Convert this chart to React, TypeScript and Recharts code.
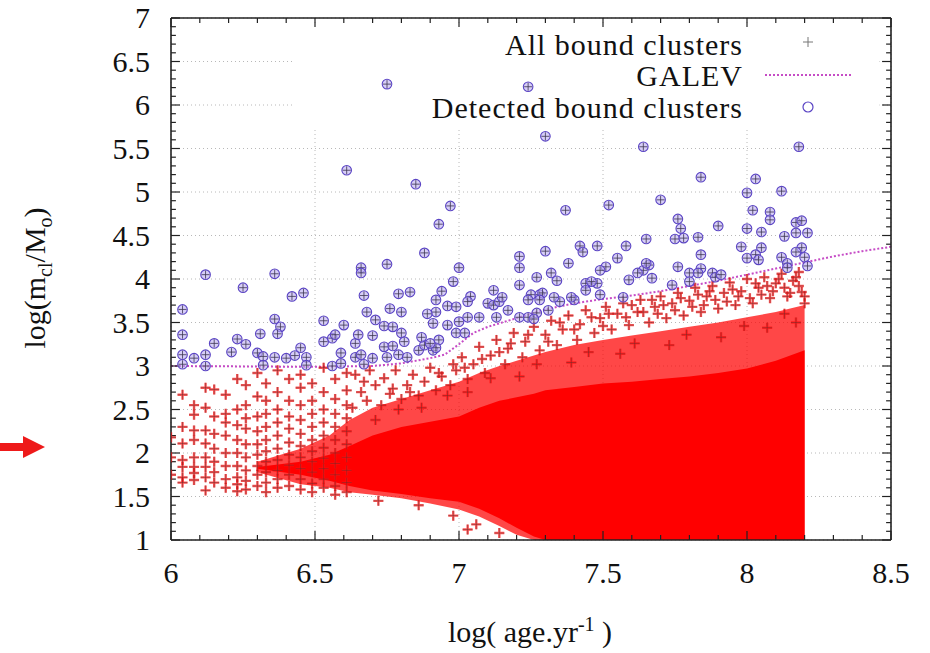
import React from "react"
import {
  ComposedChart,
  XAxis,
  YAxis,
  CartesianGrid,
  Area,
  Line,
  Scatter,
  ReferenceLine,
  ReferenceArea,
} from "recharts"

const FONT = '"Liberation Serif", "DejaVu Serif", serif'

// axis ticks
const xTicks = [6, 6.5, 7, 7.5, 8, 8.5]
const yTicks = [1, 1.5, 2, 2.5, 3, 3.5, 4, 4.5, 5, 5.5, 6, 6.5, 7]

// GALEV detection limit
const galevAge = [6.0, 6.5, 6.7, 6.8, 6.9, 6.95, 7.0, 7.05, 7.1, 7.2, 7.3, 7.4, 7.5, 7.6, 7.7, 7.8, 7.9, 8.0, 8.1, 8.2, 8.3, 8.4, 8.5]
const galevMass = [3.0, 2.99, 3.0, 3.03, 3.09, 3.13, 3.25, 3.38, 3.45, 3.55, 3.65, 3.72, 3.77, 3.81, 3.86, 3.92, 3.98, 4.05, 4.12, 4.19, 4.26, 4.32, 4.37]

// envelopes of the overlapping "all bound clusters" crosses
const bandAge = [6.3, 6.45, 6.55, 6.62, 6.7, 6.8, 6.9, 7.0, 7.07, 7.14, 7.2, 7.26, 7.3, 7.4, 7.5, 7.6, 7.7, 7.8, 7.9, 8.0, 8.1, 8.15, 8.2]
const coreLow = [1.82, 1.75, 1.68, 1.62, 1.57, 1.53, 1.48, 1.44, 1.36, 1.25, 1.14, 1.04, 1.0, 1.0, 1.0, 1.0, 1.0, 1.0, 1.0, 1.0, 1.0, 1.0, 1.0]
const coreHigh = [1.84, 1.9, 1.98, 2.08, 2.2, 2.3, 2.36, 2.42, 2.52, 2.6, 2.64, 2.68, 2.72, 2.76, 2.8, 2.82, 2.85, 2.88, 2.92, 2.97, 3.06, 3.12, 3.18]
const haloLow = [1.78, 1.64, 1.6, 1.55, 1.52, 1.48, 1.42, 1.35, 1.27, 1.16, 1.06, 1.0, 1.0, 1.0, 1.0, 1.0, 1.0, 1.0, 1.0, 1.0, 1.0, 1.0, 1.0]
const haloHigh = [1.9, 2.05, 2.2, 2.38, 2.52, 2.62, 2.72, 2.82, 2.92, 3.0, 3.06, 3.12, 3.16, 3.24, 3.3, 3.35, 3.4, 3.45, 3.5, 3.56, 3.62, 3.66, 3.7]

// young clusters: separate age columns of crosses
const youngColumns: { age: number; masses: number[] }[] = [
  { age: 6.0, masses: [2.18, 1.95, 1.75] },
  { age: 6.04, masses: [2.67, 2.3, 2.11, 1.92, 1.84, 1.72, 1.66] },
  { age: 6.08, masses: [2.55, 2.44, 2.26, 2.15, 1.95, 1.84, 1.77, 1.69] },
  { age: 6.12, masses: [2.75, 2.52, 2.26, 2.11, 1.95, 1.84, 1.72, 1.57] },
  { age: 6.15, masses: [2.73, 2.42, 2.22, 2.05, 1.9, 1.78, 1.66] },
  { age: 6.19, masses: [2.67, 2.45, 2.35, 2.2, 2.0, 1.85, 1.7, 1.6] },
  { age: 6.23, masses: [2.85, 2.5, 2.32, 2.15, 2.0, 1.85, 1.72, 1.64, 1.56] },
  { age: 6.26, masses: [2.78, 2.55, 2.4, 2.28, 2.1, 1.95, 1.8, 1.68, 1.58] },
  { age: 6.3, masses: [2.92, 2.65, 2.42, 2.25, 2.1, 1.98, 1.85, 1.75, 1.62] },
  { age: 6.33, masses: [2.8, 2.6, 2.45, 2.3, 2.15, 2.02, 1.9, 1.78, 1.66, 1.55] },
  { age: 6.37, masses: [2.95, 2.7, 2.5, 2.35, 2.2, 2.05, 1.92, 1.8, 1.7, 1.6] },
  { age: 6.41, masses: [2.85, 2.6, 2.42, 2.28, 2.12, 1.98, 1.86, 1.75, 1.62] },
  { age: 6.45, masses: [2.9, 2.75, 2.55, 2.38, 2.22, 2.08, 1.95, 1.82, 1.7, 1.58] },
  { age: 6.49, masses: [2.8, 2.6, 2.45, 2.3, 2.15, 2.02, 1.9, 1.78, 1.65, 1.55] },
  { age: 6.53, masses: [2.98, 2.7, 2.5, 2.35, 2.2, 2.06, 1.94, 1.82, 1.7, 1.6] },
  { age: 6.57, masses: [2.85, 2.62, 2.45, 2.3, 2.15, 2.0, 1.88, 1.75, 1.62, 1.52] },
  { age: 6.61, masses: [2.92, 2.72, 2.55, 2.4, 2.25, 2.1, 1.95, 1.8, 1.66, 1.55] },
]

// older clusters scattered above the saturated cloud
const upperFringe: [number, number][] = [
  [6.63, 2.52], [6.66, 2.7], [6.64, 2.9], [6.68, 2.6], [6.71, 2.78], [6.69, 2.95], [6.73, 2.55], [6.76, 2.68],
  [6.74, 2.86], [6.78, 2.95], [6.8, 2.62], [6.82, 2.78], [6.84, 2.9], [6.86, 2.66], [6.88, 2.82], [6.9, 2.98],
  [6.92, 2.72], [6.94, 2.88], [6.97, 2.78], [6.99, 2.95], [7.01, 3.1], [7.03, 2.85], [7.05, 3.02], [7.07, 3.22],
  [7.09, 2.92], [7.11, 3.12], [7.13, 3.3], [7.16, 3.02], [7.17, 3.2], [7.19, 3.38], [7.22, 3.1], [7.23, 3.28],
  [7.26, 3.45], [7.28, 3.18], [7.3, 3.36], [7.32, 3.52], [7.34, 3.24], [7.36, 3.42], [7.38, 3.58], [7.41, 3.3],
  [7.42, 3.48], [7.44, 3.64], [7.47, 3.38], [7.49, 3.55], [7.51, 3.68], [7.53, 3.42], [7.55, 3.6], [7.57, 3.72],
  [7.59, 3.47], [7.62, 3.62], [7.63, 3.76], [7.66, 3.5], [7.68, 3.68], [7.7, 3.8], [7.72, 3.55], [7.74, 3.72],
  [7.76, 3.84], [7.78, 3.58], [7.8, 3.75], [7.82, 3.9], [7.84, 3.62], [7.86, 3.8], [7.88, 3.92], [7.9, 3.66],
  [7.92, 3.84], [7.94, 3.96], [7.96, 3.7], [7.98, 3.86], [8.0, 4.0], [8.02, 3.72], [8.04, 3.9], [8.06, 4.02],
  [8.08, 3.78], [8.1, 3.95], [8.12, 4.06], [8.14, 3.8], [8.16, 3.98], [8.18, 4.08], [8.19, 3.85], [8.2, 3.72],
  [6.71, 2.38], [6.79, 2.5], [6.87, 2.52], [6.96, 2.66], [7.03, 2.7], [7.11, 2.86], [7.21, 2.88], [7.27, 3.02],
  [7.39, 3.04], [7.45, 3.16], [7.56, 3.14], [7.61, 3.26], [7.73, 3.24], [7.79, 3.36], [7.91, 3.33], [7.99, 3.46],
  [8.07, 3.44], [8.13, 3.6], [8.17, 3.5],
  [7.02, 2.98], [7.08, 3.08], [7.14, 3.16], [7.18, 3.26], [7.24, 3.36], [7.31, 3.28], [7.35, 3.5], [7.4, 3.42],
  [7.46, 3.56], [7.5, 3.46], [7.52, 3.6], [7.58, 3.56], [7.6, 3.7], [7.64, 3.62], [7.67, 3.76], [7.69, 3.6],
  [7.71, 3.7], [7.75, 3.64], [7.77, 3.78], [7.81, 3.68], [7.83, 3.82], [7.85, 3.7], [7.87, 3.86], [7.89, 3.76],
  [7.93, 3.74], [7.95, 3.88], [7.97, 3.8], [8.01, 3.78], [8.03, 3.95], [8.05, 3.82], [8.07, 3.92], [8.09, 3.86],
  [8.11, 4.0], [8.13, 3.9], [8.15, 3.84], [8.17, 4.02], [8.18, 3.92], [8.2, 3.8], [6.98, 3.02], [6.93, 2.92],
  [6.83, 2.7], [6.77, 2.74], [6.67, 2.82],
]

const lowFringe: [number, number][] = [
  [6.72, 1.45], [6.86, 1.4], [6.98, 1.28], [7.06, 1.18], [7.14, 1.08], [7.03, 1.12],
]

// detected bound clusters
const detected: [number, number][] = [
  [6.04, 3.65], [6.12, 4.05], [6.25, 3.9], [6.36, 4.06], [6.42, 3.8], [6.46, 3.84], [6.36, 3.54], [6.38, 3.45],
  [6.04, 3.36], [6.15, 3.26], [6.23, 3.31], [6.26, 3.25], [6.31, 3.37], [6.37, 3.37],
  [6.04, 3.13], [6.08, 3.09], [6.12, 3.13], [6.04, 3.02], [6.12, 3.0], [6.21, 3.16], [6.3, 3.15], [6.32, 3.11],
  [6.32, 3.01], [6.36, 3.1], [6.4, 3.09], [6.43, 3.12], [6.45, 3.21], [6.47, 3.1], [6.47, 3.01],
  [6.53, 3.52], [6.53, 3.28], [6.56, 3.32], [6.57, 3.36], [6.6, 3.47], [6.59, 3.15], [6.56, 3.0], [6.59, 3.03],
  [6.64, 3.26], [6.64, 3.1], [6.65, 3.36], [6.66, 3.13], [6.7, 3.35], [6.7, 3.09], [6.67, 3.02],
  [6.61, 5.25], [6.75, 6.24], [6.85, 5.09], [6.66, 4.13], [6.66, 4.07], [6.67, 3.81], [6.68, 3.62], [6.71, 3.53],
  [6.75, 4.17], [6.79, 3.83], [6.83, 3.85], [6.76, 3.66], [6.8, 3.62], [6.74, 3.46], [6.77, 3.45], [6.8, 3.38],
  [6.81, 3.28], [6.74, 3.22], [6.77, 3.23], [6.79, 3.13], [6.75, 3.1], [6.82, 3.1], [6.86, 3.18], [6.88, 3.24],
  [6.91, 3.18], [6.93, 3.3], [6.92, 3.21], [6.87, 3.33],
  [6.88, 4.3], [6.93, 4.63], [6.97, 4.84], [7.0, 4.13], [6.98, 3.97], [6.94, 3.86], [6.92, 3.76], [6.92, 3.62],
  [6.96, 3.69], [6.99, 3.68], [6.89, 3.6], [6.91, 3.49], [6.96, 3.47], [7.0, 3.51], [7.03, 3.56], [7.07, 3.56],
  [7.04, 3.8], [7.03, 3.74], [7.1, 3.72], [7.12, 3.7], [7.14, 3.74], [7.12, 3.87], [7.15, 3.79], [7.17, 3.64],
  [7.13, 3.56], [6.99, 3.38], [7.02, 3.38], [6.9, 3.26],
  [7.24, 6.21], [7.3, 5.64], [7.37, 4.79], [7.52, 4.85], [7.21, 4.26], [7.21, 4.13], [7.21, 3.93], [7.3, 4.32],
  [7.27, 4.02], [7.32, 4.07], [7.34, 3.98], [7.38, 4.18], [7.42, 4.38], [7.43, 4.31], [7.48, 4.38], [7.58, 4.38],
  [7.55, 4.24], [7.51, 4.14], [7.49, 4.1], [7.48, 3.95], [7.44, 3.95], [7.46, 3.97], [7.44, 3.87], [7.49, 3.82],
  [7.4, 3.76], [7.39, 3.79], [7.35, 3.74], [7.31, 3.64], [7.27, 3.61], [7.25, 3.82], [7.28, 3.82], [7.29, 3.84],
  [7.33, 3.79], [7.24, 3.76], [7.28, 3.76], [7.21, 3.56], [7.24, 3.56], [7.26, 3.54], [7.57, 3.79], [7.59, 3.99],
  [7.64, 5.52], [8.18, 5.52], [7.84, 5.17], [8.03, 5.15], [8.12, 5.01], [8.0, 4.99], [7.7, 4.91], [8.02, 4.79],
  [8.08, 4.77], [8.08, 4.68], [8.17, 4.65], [8.19, 4.67], [7.76, 4.69], [7.77, 4.58], [7.75, 4.46], [7.78, 4.47],
  [7.83, 4.48], [7.9, 4.61], [7.65, 4.46], [8.0, 4.58], [8.05, 4.54], [8.13, 4.49], [8.17, 4.53], [8.21, 4.53],
  [7.98, 4.37], [8.05, 4.36], [8.0, 4.24], [8.03, 4.28], [8.04, 4.22], [8.12, 4.25], [8.19, 4.36], [8.17, 4.31],
  [8.2, 4.25], [8.14, 4.18], [8.14, 4.13], [8.21, 4.15], [7.84, 4.28], [7.84, 4.12], [7.76, 4.14], [7.8, 4.07],
  [7.83, 4.07], [7.8, 3.97], [7.88, 4.07], [7.89, 4.02], [7.91, 4.05], [7.74, 3.93], [7.66, 4.16], [7.64, 4.1],
  [7.62, 4.07], [7.67, 4.01], [7.65, 4.18],
]

// tables for the library
const tableAges = Array.from(new Set([...bandAge, ...galevAge])).sort((a, b) => a - b)
const chartRows = tableAges.map((age) => {
  const i = bandAge.indexOf(age)
  const g = galevAge.indexOf(age)
  return {
    age,
    core: i >= 0 ? [coreLow[i], coreHigh[i]] : undefined,
    halo: i >= 0 ? [haloLow[i], haloHigh[i]] : undefined,
    galev: g >= 0 ? galevMass[g] : undefined,
  }
})
const crossPoints = [
  ...youngColumns.flatMap((c) => c.masses.map((m) => ({ age: c.age, mass: m }))),
  ...upperFringe.map(([age, mass]) => ({ age, mass })),
  ...lowFringe.map(([age, mass]) => ({ age, mass })),
]
const detectedPoints = detected.map(([age, mass]) => ({ age, mass }))

const xMinor = Array.from({ length: 26 }, (_, i) => Math.round(60 + i) / 10)
const yMinor = Array.from({ length: 61 }, (_, i) => Math.round(10 + i) / 10)
const isMajor = (v: number) => Math.abs(v * 2 - Math.round(v * 2)) < 1e-6

function RedCross(props: any) {
  const { cx, cy } = props
  if (cx == null || cy == null) return null
  const d = `M${cx - 5},${cy}H${cx + 5}M${cx},${cy - 5}V${cy + 5}`
  return (
    <g>
      <path d={d} stroke="#ff1010" strokeWidth={2.4} strokeOpacity={0.7} />
      <path d={d} stroke="#6a2a2a" strokeWidth={0.7} strokeOpacity={0.7} />
    </g>
  )
}

function DetectedMark(props: any) {
  const { cx, cy } = props
  if (cx == null || cy == null) return null
  return (
    <g>
      <circle cx={cx} cy={cy} r={4.8} fill="#bcaef2" fillOpacity={0.6} stroke="#5a44c4" strokeWidth={1.1} />
      <path d={`M${cx - 4},${cy}H${cx + 4}M${cx},${cy - 4}V${cy + 4}`} stroke="#3c3650" strokeWidth={0.8} />
    </g>
  )
}

function XTick(props: any) {
  const { x, y, payload } = props
  return (
    <text x={x} y={y} dy="0.71em" textAnchor="middle" fontFamily={FONT} fontSize={30} fill="#111">
      {payload.value}
    </text>
  )
}

function YTick(props: any) {
  const { x, y, payload } = props
  return (
    <text x={x} y={y} dy="0.34em" textAnchor="end" fontFamily={FONT} fontSize={30} fill="#111">
      {payload.value}
    </text>
  )
}

const frame = "#222"

export default function App() {
  return (
    <div
      style={{
        position: "absolute",
        left: 0,
        top: 0,
        width: 930,
        height: 653,
        background: "#fff",
        fontFamily: FONT,
        color: "#111",
      }}
    >
      <ComposedChart
        width={930}
        height={653}
        data={chartRows}
        margin={{ top: 18, right: 39, bottom: 53, left: 0 }}
        style={{ fontFamily: FONT }}
      >
        <CartesianGrid stroke="#b8b8b8" strokeDasharray="1 3" />
        <ReferenceArea x1={6.43} x2={8.46} y1={5.74} y2={6.93} fill="#fff" fillOpacity={1} stroke="none" />
        <XAxis
          dataKey="age"
          type="number"
          domain={[6, 8.5]}
          ticks={xTicks}
          interval={0}
          allowDataOverflow
          axisLine={false}
          tickLine={false}
          tickSize={0}
          tickMargin={22}
          height={60}
          tick={<XTick />}
        />
        <YAxis
          dataKey="mass"
          type="number"
          domain={[1, 7]}
          ticks={yTicks}
          interval={0}
          allowDataOverflow
          axisLine={false}
          tickLine={false}
          tickSize={0}
          tickMargin={21}
          width={171}
          tick={<YTick />}
        />
        <Area
          dataKey="halo"
          type="linear"
          stroke="none"
          fill="#ff0000"
          fillOpacity={0.72}
          connectNulls
          dot={false}
          activeDot={false}
          isAnimationActive={false}
        />
        <Area
          dataKey="core"
          type="linear"
          stroke="none"
          fill="#ff0000"
          fillOpacity={1}
          connectNulls
          dot={false}
          activeDot={false}
          isAnimationActive={false}
        />
        <Scatter data={crossPoints} shape={(p: any) => <RedCross {...p} />} isAnimationActive={false} />
        <Line
          dataKey="galev"
          type="linear"
          stroke="#c64cc6"
          strokeWidth={2}
          strokeDasharray="2 2"
          dot={false}
          activeDot={false}
          connectNulls
          isAnimationActive={false}
        />
        <Scatter data={detectedPoints} shape={(p: any) => <DetectedMark {...p} />} isAnimationActive={false} />

        {xMinor.map((t) => {
          const len = isMajor(t) ? 0.103 : 0.057
          return [
            <ReferenceLine key={`b${t}`} segment={[{ x: t, y: 1 }, { x: t, y: 1 + len }]} stroke={frame} strokeWidth={1.2} />,
            <ReferenceLine key={`t${t}`} segment={[{ x: t, y: 7 }, { x: t, y: 7 - len }]} stroke={frame} strokeWidth={1.2} />,
          ]
        })}
        {yMinor.map((t) => {
          const len = isMajor(t) ? 0.031 : 0.017
          return [
            <ReferenceLine key={`l${t}`} segment={[{ x: 6, y: t }, { x: 6 + len, y: t }]} stroke={frame} strokeWidth={1.2} />,
            <ReferenceLine key={`r${t}`} segment={[{ x: 8.5, y: t }, { x: 8.5 - len, y: t }]} stroke={frame} strokeWidth={1.2} />,
          ]
        })}
        <ReferenceLine x={6} stroke={frame} strokeWidth={1.6} />
        <ReferenceLine x={8.5} stroke={frame} strokeWidth={1.6} />
        <ReferenceLine y={1} stroke={frame} strokeWidth={1.6} />
        <ReferenceLine y={7} stroke={frame} strokeWidth={1.6} />
      </ComposedChart>

      {/* key */}
      {[
        { label: "All bound clusters", y: 45 },
        { label: "GALEV", y: 76 },
        { label: "Detected bound clusters", y: 108 },
      ].map((row) => (
        <div
          key={row.label}
          style={{
            position: "absolute",
            right: 187,
            top: row.y - 15,
            fontSize: 30,
            lineHeight: "30px",
            letterSpacing: 1,
            whiteSpace: "nowrap",
          }}
        >
          {row.label}
        </div>
      ))}
      <svg style={{ position: "absolute", left: 0, top: 0, pointerEvents: "none" }} width={930} height={653}>
        <path d="M803,42H813M808,37V47" stroke="#777" strokeWidth={1} />
        <line x1={765} y1={75} x2={851} y2={75} stroke="#c64cc6" strokeWidth={2} strokeDasharray="2 2" />
        <circle cx={808} cy={107} r={5} fill="none" stroke="#5a44c4" strokeWidth={1.2} />
        {/* red arrow on the left */}
        <path d="M0,443H23V436L45,447L23,458V451H0Z" fill="#ee1a1a" />
      </svg>

      {/* axis titles */}
      <div
        style={{
          position: "absolute",
          left: 40,
          top: 278,
          transform: "translate(-50%, -50%) rotate(-90deg)",
          fontSize: 30,
          whiteSpace: "nowrap",
          lineHeight: "34px",
        }}
      >
        log(m<sub style={{ fontSize: 20 }}>cl</sub>/M<sub style={{ fontSize: 20 }}>o</sub>)
      </div>
      <div
        style={{
          position: "absolute",
          left: 530,
          top: 628,
          transform: "translate(-50%, -50%)",
          fontSize: 30,
          whiteSpace: "nowrap",
          lineHeight: "34px",
        }}
      >
        log( age.yr<sup style={{ fontSize: 20 }}>-1</sup> )
      </div>
    </div>
  )
}
